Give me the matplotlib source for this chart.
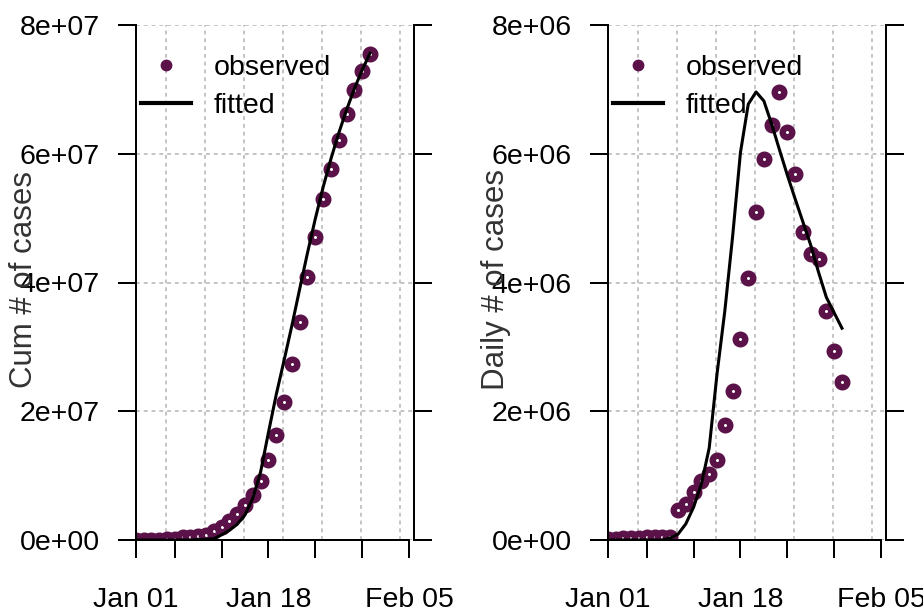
import numpy as np
import matplotlib
matplotlib.use("Agg")
import matplotlib.pyplot as plt
from matplotlib.lines import Line2D

plt.rcParams['font.family'] = ['Liberation Sans', 'DejaVu Sans']
plt.rcParams['font.size'] = 20.5

# days since Jan 01
days = list(range(31))

# cumulative cases
cum_observed = [0.00, 0.00, 0.00, 0.00, 0.01, 0.02, 0.04, 0.05, 0.06, 0.08,
                0.14, 0.20, 0.30, 0.40, 0.54, 0.70, 0.91, 1.24, 1.63, 2.15,
                2.73, 3.38, 4.09, 4.71, 5.30, 5.76, 6.21, 6.61, 6.99, 7.28, 7.55]
cum_fitted = [0.00, 0.00, 0.00, 0.00, 0.00, 0.00, 0.00, 0.00, 0.005, 0.01,
              0.02, 0.08, 0.15, 0.245, 0.39, 0.65, 1.06, 1.67, 2.26, 2.79,
              3.33, 3.90, 4.46, 4.99, 5.48, 5.92, 6.32, 6.68, 7.01, 7.30, 7.56]
cum_observed = [v * 1e7 for v in cum_observed]
cum_fitted = [v * 1e7 for v in cum_fitted]

# daily cases
daily_observed = [0.02, 0.02, 0.03, 0.03, 0.03, 0.04, 0.04, 0.05, 0.05, 0.46,
                  0.56, 0.75, 0.91, 1.03, 1.24, 1.79, 2.31, 3.12, 4.07, 5.10,
                  5.92, 6.44, 6.96, 6.34, 5.68, 4.78, 4.45, 4.36, 3.55, 2.94, 2.45]
daily_fitted = [0.00, 0.00, 0.00, 0.00, 0.00, 0.00, 0.00, 0.00, 0.03, 0.09,
                0.25, 0.51, 0.87, 1.43, 2.58, 3.56, 4.72, 6.02, 6.77, 6.96,
                6.82, 6.46, 6.06, 5.67, 5.30, 4.94, 4.58, 4.16, 3.77, 3.53, 3.29]
daily_observed = [v * 1e6 for v in daily_observed]
daily_fitted = [v * 1e6 for v in daily_fitted]

x_ticks = [0, 5, 11, 17, 23, 29, 35]
x_labels = ['Jan 01', '', '', 'Jan 18', '', '', 'Feb 05']
x_grid = [3.9, 8.9, 13.9, 18.9, 23.9, 28.9, 33.9]
cum_ticks = [0, 2e7, 4e7, 6e7, 8e7]
daily_ticks = [0, 2e6, 4e6, 6e6, 8e6]

purple = '#5B1248'
W, H = 923, 615
fig = plt.figure(figsize=(W / 100, H / 100), dpi=100)
ax1 = fig.add_axes([135.7 / W, 75 / H, 278 / W, 515 / H])
ax2 = fig.add_axes([607.7 / W, 75 / H, 278 / W, 515 / H])


def draw_panel(ax, obs, fit, yticks, ylabel):
    ax.set_xlim(0, 35.6)
    ax.set_ylim(0, yticks[-1])

    # dashed grid
    for gx in x_grid:
        ax.axvline(gx, color='#C4C4C4', lw=1.4, ls=(0, (2, 2)), zorder=0)
    for gy in yticks:
        ax.axhline(gy, color='#C4C4C4', lw=1.4, ls=(0, (2, 2)), zorder=0)

    ax.plot(days, obs, 'o', ms=6.9, mfc='white', mec=purple, mew=4.6, zorder=2)
    ax.plot(days, fit, color='black', lw=2.2, zorder=3)

    ax.set_xticks(x_ticks)
    ax.set_xticklabels(x_labels)
    ax.set_yticks(yticks)
    ax.set_yticklabels([f"{v:.0e}" for v in yticks])
    ax.tick_params(axis='both', direction='out', length=13, width=1.44, colors='black')
    ax.tick_params(axis='x', pad=21)
    ax.tick_params(axis='y', pad=13, right=True, labelright=False)

    ax.spines['top'].set_visible(False)
    for s in ['left', 'right', 'bottom']:
        ax.spines[s].set_linewidth(1.44)
    ax.spines['bottom'].set_bounds(0, 35)

    ax.set_ylabel(ylabel, fontsize=22.5, color='#333333', va='center')
    ax.yaxis.set_label_coords(-0.402, 0.505)

    handles = [Line2D([], [], marker='o', ls='none', color=purple, ms=7.5),
               Line2D([], [], color='black', lw=3)]
    ax.legend(handles, ['observed', 'fitted'], loc='upper left',
              bbox_to_anchor=(0.02, 0.942), frameon=False, borderpad=0,
              borderaxespad=0, handlelength=1.75, handletextpad=0.8,
              labelspacing=0.41, fontsize=20.5)


draw_panel(ax1, cum_observed, cum_fitted, cum_ticks, 'Cum # of cases')
draw_panel(ax2, daily_observed, daily_fitted, daily_ticks, 'Daily # of cases')

fig.savefig('out.png', dpi=100)
